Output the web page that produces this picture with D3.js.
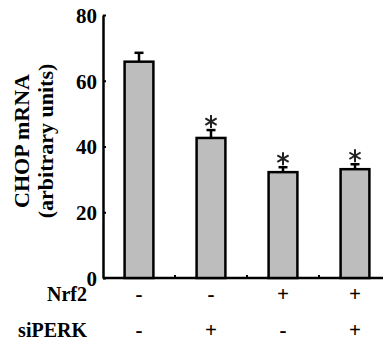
<!DOCTYPE html>
<html>
<head>
<meta charset="utf-8">
<script src="https://cdn.jsdelivr.net/npm/d3@7"></script>
<style>
  body { margin: 0; background: #fff; }
  text { font-family: "Liberation Serif", "Times New Roman", serif; font-weight: bold; }
</style>
</head>
<body>
<div id="chart"></div>
<script>
// groups, values
const groups = ["g1", "g2", "g3", "g4"];
const chopValues = [65.8, 42.6, 32.2, 33.1];
const errorTops = [68.5, 45.0, 33.7, 34.6];
const significant = [false, true, true, true];
const nrf2Signs = ["-", "-", "+", "+"];
const siperkSigns = ["-", "+", "-", "+"];
const yTicks = [0, 20, 40, 60, 80];

const width = 383, height = 344;
const svg = d3.select("#chart").append("svg")
    .attr("width", width)
    .attr("height", height);

// scales
const x = d3.scaleBand().domain(groups).range([103, 391])
    .paddingInner(0.6).paddingOuter(0.3);
const y = d3.scaleLinear().domain([0, 80]).range([278, 15]);

// y axis (ticks point inward)
const yAxis = d3.axisRight(y).tickValues(yTicks).tickSize(3).tickSizeOuter(0);
const yg = svg.append("g")
    .attr("transform", "translate(" + x.range()[0] + ",0)")
    .call(yAxis);
yg.select(".domain").attr("stroke", "#000").attr("stroke-width", 2.5);
yg.selectAll(".tick line").attr("stroke", "#000").attr("stroke-width", 2);
yg.selectAll(".tick text")
    .attr("x", -6)
    .attr("dy", "0.35em")
    .style("text-anchor", "end")
    .style("font-size", "21px")
    .style("font-family", "Liberation Serif")
    .style("font-weight", "bold")
    .attr("fill", "#000");

// x axis baseline
svg.append("line")
    .attr("x1", x.range()[0]).attr("x2", width)
    .attr("y1", y(0)).attr("y2", y(0))
    .attr("stroke", "#000").attr("stroke-width", 2.5);

// small ticks between groups
svg.selectAll(".minor")
    .data(groups.slice(1))
    .enter().append("line")
    .attr("class", "minor")
    .attr("x1", d => x(d) - x.step() * x.paddingInner() / 2)
    .attr("x2", d => x(d) - x.step() * x.paddingInner() / 2)
    .attr("y1", y(0))
    .attr("y2", y(0) - 3)
    .attr("stroke", "#000").attr("stroke-width", 2);

// error bars (upper only)
const capW = 9;
groups.forEach((g, i) => {
    const cx = x(g) + x.bandwidth() / 2;
    svg.append("line")
        .attr("x1", cx).attr("x2", cx)
        .attr("y1", y(chopValues[i])).attr("y2", y(errorTops[i]))
        .attr("stroke", "#000").attr("stroke-width", 2.5);
    svg.append("line")
        .attr("x1", cx - capW / 2).attr("x2", cx + capW / 2)
        .attr("y1", y(errorTops[i])).attr("y2", y(errorTops[i]))
        .attr("stroke", "#000").attr("stroke-width", 2.5);
});

// bars
svg.selectAll(".bar")
    .data(groups)
    .enter().append("rect")
    .attr("class", "bar")
    .attr("x", d => x(d))
    .attr("width", x.bandwidth())
    .attr("y", (d, i) => y(chopValues[i]))
    .attr("height", (d, i) => y(0) - y(chopValues[i]))
    .attr("fill", "#bdbdbd")
    .attr("stroke", "#000")
    .attr("stroke-width", 2.5);

// significance asterisks (six spokes)
groups.forEach((g, i) => {
    if (!significant[i]) return;
    const cx = x(g) + x.bandwidth() / 2;
    const cy = y(errorTops[i]) - 8.5;
    const r = 6.5;
    [90, 30, 150].forEach(a => {
        const rad = a * Math.PI / 180;
        svg.append("line")
            .attr("x1", cx - r * Math.cos(rad)).attr("y1", cy - r * Math.sin(rad))
            .attr("x2", cx + r * Math.cos(rad)).attr("y2", cy + r * Math.sin(rad))
            .attr("stroke", "#222").attr("stroke-width", 2);
    });
});

// y title
const title = svg.append("text")
    .attr("transform", "translate(0,141) rotate(-90)")
    .style("text-anchor", "middle")
    .style("font-size", "22px")
    .attr("fill", "#000");
title.append("tspan").attr("x", 0).attr("y", 29).text("CHOP mRNA");
title.append("tspan").attr("x", 0).attr("y", 53).text("(arbitrary units)");

// treatment rows
const rows = [
    { label: "Nrf2", signs: nrf2Signs, y: 301 },
    { label: "siPERK", signs: siperkSigns, y: 337 }
];
rows.forEach(r => {
    svg.append("text")
        .attr("x", 87).attr("y", r.y)
        .style("text-anchor", "end")
        .style("font-size", "20px")
        .text(r.label);
    svg.selectAll(".sign-" + r.label)
        .data(groups)
        .enter().append("text")
        .attr("x", d => x(d) + x.bandwidth() / 2)
        .attr("y", r.y)
        .style("text-anchor", "middle")
        .style("font-size", "21px")
        .text((d, i) => r.signs[i]);
});
</script>
</body>
</html>
